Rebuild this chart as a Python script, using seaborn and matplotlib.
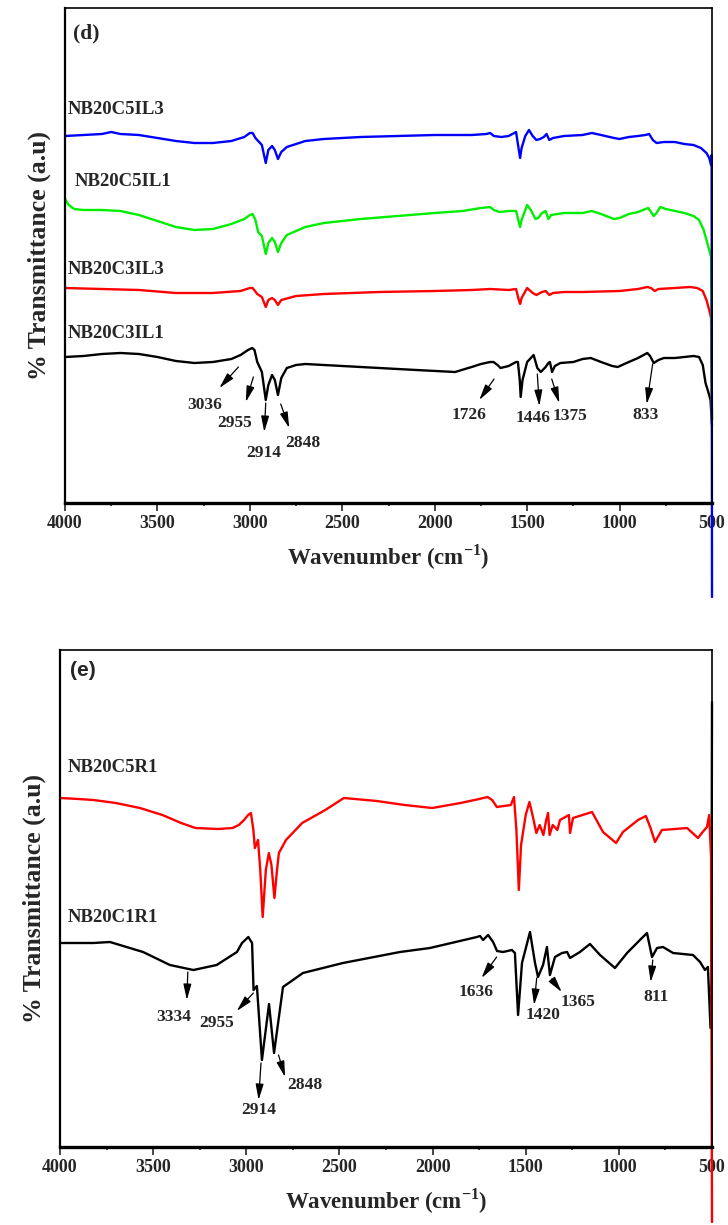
import matplotlib
matplotlib.use('Agg')
import matplotlib.pyplot as plt
from matplotlib.ticker import MultipleLocator
import seaborn as sns

sns.set_theme(style='white')
plt.rcParams['font.family'] = ['Liberation Serif', 'DejaVu Serif']
plt.rcParams['font.weight'] = 'bold'
plt.rcParams['mathtext.fontset'] = 'custom'
plt.rcParams['mathtext.rm'] = 'Liberation Serif'
plt.rcParams['mathtext.bf'] = 'Liberation Serif:bold'

# ---- panel (d): spectra (wavenumber, transmittance a.u. with offsets)
d_c5il3_x = [4000, 3900, 3800, 3750, 3700, 3600, 3500, 3400, 3300, 3200, 3100, 3030, 3000, 2985,
             2970, 2955, 2935, 2914, 2900, 2880, 2865, 2848, 2830, 2800, 2700, 2600, 2400, 2200,
             2000, 1800, 1720, 1700, 1680, 1640, 1600, 1570, 1560, 1545, 1538, 1530, 1510, 1490,
             1470, 1450, 1430, 1410, 1395, 1380, 1360, 1300, 1200, 1150, 1100, 1030, 1000, 950,
             900, 860, 840, 820, 800, 760, 700, 650, 600, 560, 530, 515, 505, 502, 500]
d_c5il3_y = [367, 368, 369, 371, 369, 368, 365, 362, 360, 360, 362, 366, 370, 370,
             365, 362, 358, 340, 353, 357, 353, 344, 351, 356, 362, 364, 366, 367,
             368, 368, 369, 370, 367, 366, 367, 370, 371, 353, 345, 355, 367, 373,
             367, 363, 364, 366, 369, 363, 365, 367, 368, 370, 368, 365, 364, 366,
             367, 368, 369, 363, 360, 361, 361, 359, 358, 355, 350, 345, 338, 348, -94]

d_c5il1_x = [4000, 3980, 3950, 3900, 3800, 3700, 3600, 3500, 3400, 3300, 3200, 3100, 3030, 3000,
             2985, 2970, 2955, 2935, 2914, 2900, 2880, 2865, 2848, 2830, 2800, 2700, 2600, 2400,
             2200, 2000, 1850, 1750, 1700, 1680, 1650, 1600, 1560, 1545, 1538, 1530, 1500, 1480,
             1455, 1440, 1420, 1400, 1385, 1370, 1300, 1200, 1150, 1100, 1030, 1000, 950, 900,
             860, 845, 815, 800, 780, 750, 700, 650, 600, 570, 545, 530, 515, 505, 500]
d_c5il1_y = [304, 298, 294, 293, 293, 292, 288, 282, 276, 273, 274, 279, 284, 288,
             289, 283, 271, 267, 249, 260, 265, 261, 251, 260, 268, 276, 280, 284,
             287, 290, 292, 295, 296, 293, 291, 292, 292, 281, 276, 283, 298, 293,
             284, 285, 290, 292, 284, 288, 290, 290, 292, 289, 284, 285, 289, 291,
             294, 295, 287, 290, 296, 294, 292, 290, 287, 283, 273, 263, 253, 246, 83]

d_c3il3_x = [4000, 3800, 3600, 3400, 3200, 3050, 3000, 2985, 2960, 2935, 2914, 2900, 2880, 2865,
             2848, 2830, 2750, 2600, 2300, 2000, 1800, 1700, 1600, 1560, 1545, 1538, 1530, 1500,
             1470, 1450, 1420, 1400, 1380, 1360, 1300, 1200, 1000, 900, 850, 830, 810, 790,
             700, 620, 580, 550, 530, 515, 505, 500]
d_c3il3_y = [215, 214, 213, 210, 210, 212, 215, 215, 209, 206, 196, 203, 205, 203,
             198, 203, 207, 209, 211, 212, 213, 214, 213, 214, 203, 199, 205, 215,
             210, 208, 211, 212, 208, 210, 211, 211, 212, 214, 216, 215, 212, 214,
             215, 216, 215, 212, 203, 193, 185, 83]

d_c3il1_x = [4000, 3900, 3800, 3700, 3600, 3500, 3400, 3300, 3200, 3100, 3050, 3010, 2987, 2975,
             2960, 2950, 2935, 2914, 2900, 2880, 2865, 2848, 2830, 2800, 2750, 2700, 2500, 2300,
             2100, 1890, 1800, 1750, 1700, 1682, 1660, 1644, 1600, 1560, 1550, 1540, 1535, 1525,
             1500, 1465, 1445, 1426, 1400, 1385, 1377, 1365, 1350, 1320, 1250, 1200, 1156, 1100,
             1040, 1010, 950, 900, 850, 835, 815, 790, 760, 700, 650, 600, 570, 550, 535, 520,
             508, 500]
d_c3il1_y = [146, 147, 149, 150, 149, 146, 142, 140, 141, 144, 148, 153, 155, 153,
             141, 137, 131, 103, 118, 128, 123, 108, 125, 135, 138, 139, 137, 135,
             133, 131, 136, 139, 141, 141, 138, 135, 137, 141, 141, 123, 106, 123,
             141, 148, 135, 131, 136, 140, 141, 131, 137, 140, 141, 144, 145, 141,
             137, 136, 141, 145, 150, 147, 140, 143, 145, 145, 146, 147, 146, 138, 120, 111,
             103, 78]

d_names = ['NB20C5IL3', 'NB20C5IL1', 'NB20C3IL3', 'NB20C3IL1']
d_name_x = [3985, 3945, 3985, 3985]
d_name_y = [393, 321, 233, 169]

d_peaks = ['3036', '2955', '2914', '2848', '1726', '1446', '1375', '833']
d_peak_tail = [(3062, 136), (2981, 126), (2914, 100), (2833, 99), (1679, 124), (1445, 129), (1367, 124), (821, 139)]
d_peak_head = [(3165, 115), (3022, 101), (2922, 71), (2787, 75), (1759, 103), (1434, 97), (1326, 100), (853, 99)]
d_peak_text = [(3243, 98), (3080, 80), (2927, 50), (2714, 60), (1813, 88), (1467, 85), (1268, 87), (862, 88)]

# ---- panel (e)
e_c5r1_x = [4000, 3900, 3821, 3700, 3571, 3450, 3350, 3273, 3150, 3074, 3040, 3012, 2990, 2975,
            2962, 2954, 2937, 2925, 2912, 2895, 2879, 2865, 2849, 2835, 2825, 2787, 2700, 2576,
            2476, 2300, 2150, 2002, 1850, 1750, 1705, 1680, 1655, 1580, 1563, 1550, 1537, 1525,
            1500, 1480, 1460, 1443, 1425, 1405, 1390, 1380, 1372, 1355, 1330, 1316, 1268, 1262,
            1246, 1144, 1085, 1015, 978, 897, 855, 830, 806, 769, 700, 634, 575, 550, 527, 515,
            505, 500]
e_c5r1_y = [349, 348, 347, 344, 339, 332, 324, 319, 318, 319, 322, 327, 332, 334,
            317, 299, 307, 277, 230, 277, 294, 282, 249, 277, 294, 307, 324, 337,
            349, 346, 342, 339, 344, 348, 350, 347, 340, 342, 350, 317, 257, 302,
            332, 345, 329, 314, 322, 312, 327, 334, 312, 322, 317, 327, 332, 314,
            329, 335, 315, 304, 315, 327, 331, 319, 305, 317, 318, 319, 309, 315, 320, 332,
            290, -75]

e_c1r1_x = [4000, 3821, 3732, 3554, 3410, 3284, 3159, 3050, 3023, 2989, 2969, 2961, 2943, 2916,
            2878, 2851, 2803, 2696, 2481, 2175, 2014, 1762, 1745, 1729, 1702, 1675, 1654, 1622,
            1574, 1558, 1541, 1520, 1477, 1450, 1434, 1407, 1386, 1370, 1343, 1305, 1278, 1262,
            1209, 1155, 1101, 1021, 956, 887, 849, 822, 795, 763, 709, 602, 564, 538, 522,
            508, 503, 500]
e_c1r1_y = [204, 204, 205, 195, 182, 177, 182, 195, 204, 210, 204, 157, 161, 87,
            143, 94, 160, 174, 184, 195, 199, 210, 211, 207, 212, 205, 196, 195,
            197, 194, 132, 184, 215, 184, 170, 182, 200, 172, 190, 194, 195, 189,
            195, 203, 192, 179, 194, 207, 214, 190, 199, 200, 194, 192, 185, 177, 180,
            119, 167, 445]

e_names = ['NB20C5R1', 'NB20C1R1']
e_name_x = [3960, 3960]
e_name_y = [380, 229]

e_peaks = ['3334', '2955', '2914', '2848', '1636', '1420', '1365', '811']
e_peak_tail = [(3314, 175), (2962, 154), (2921, 84), (2827, 92), (1656, 190), (1441, 169), (1361, 168), (818, 187)]
e_peak_head = [(3319, 147), (3051, 136), (2934, 47), (2792, 70), (1737, 169), (1455, 142), (1307, 155), (829, 165)]
e_peak_text = [(3391, 130), (3159, 124), (2934, 37), (2685, 62), (1764, 155), (1405, 132), (1218, 145), (800, 150)]

fig = plt.figure(figsize=(7.28, 12.25), dpi=100)
ax_d = fig.add_axes([65 / 728, 1 - 503 / 1225, 647 / 728, 495 / 1225])
ax_e = fig.add_axes([60 / 728, 1 - 1147 / 1225, 652 / 728, 497 / 1225])


def style_axis(ax, ytop):
    ax.set_xlim(4000, 500)
    ax.set_ylim(0, ytop)
    ax.xaxis.set_major_locator(MultipleLocator(500))
    ax.xaxis.set_minor_locator(MultipleLocator(250))
    ax.set_yticks([])
    ax.tick_params(axis='x', which='major', direction='out', length=5.5, width=1.2,
                   labelsize=13, pad=3, bottom=True)
    ax.tick_params(axis='x', which='minor', direction='out', length=2.5, width=1.2, bottom=True)
    for lab in ax.get_xticklabels():
        lab.set_fontweight('bold')
    for side in ['top', 'right']:
        ax.spines[side].set_linewidth(1.2)
        ax.spines[side].set_color('black')
    ax.spines['left'].set_linewidth(1.6)
    ax.spines['left'].set_color('black')
    ax.spines['bottom'].set_linewidth(2.4)
    ax.spines['bottom'].set_color('black')
    ax.set_xlabel('Wavenumber (cm$^{\\mathbf{-1}}$)', fontsize=16.5, fontweight='bold', labelpad=8)
    ax.set_ylabel('% Transmittance (a.u)', fontsize=18.5, fontweight='bold', labelpad=10)


def annotate_peaks(ax, names, tails, heads, texts):
    for name, t, h, p in zip(names, tails, heads, texts):
        ax.annotate('', xy=h, xytext=t,
                    arrowprops=dict(arrowstyle='-|>,head_length=0.8,head_width=0.2',
                                    color='black', lw=0.9, shrinkA=0, shrinkB=0))
        ax.text(p[0], p[1], name, ha='center', va='center', fontsize=12.5, fontweight='bold')


# panel (d)
sns.lineplot(x=d_c3il1_x, y=d_c3il1_y, color='black', lw=1.7, estimator=None, ax=ax_d, clip_on=False)
sns.lineplot(x=d_c3il3_x, y=d_c3il3_y, color='#ff0000', lw=1.7, estimator=None, ax=ax_d, clip_on=False)
sns.lineplot(x=d_c5il1_x, y=d_c5il1_y, color='#00ee00', lw=1.7, estimator=None, ax=ax_d, clip_on=False)
sns.lineplot(x=d_c5il3_x, y=d_c5il3_y, color='#0000ff', lw=1.7, estimator=None, ax=ax_d, clip_on=False)
style_axis(ax_d, 495)
for name, x, y in zip(d_names, d_name_x, d_name_y):
    ax_d.text(x, y, name, ha='left', va='center', fontsize=13.5, fontweight='bold')
ax_d.text(3957, 470, '(d)', ha='left', va='center', fontsize=15.5, fontweight='bold')
annotate_peaks(ax_d, d_peaks, d_peak_tail, d_peak_head, d_peak_text)

# panel (e)
sns.lineplot(x=e_c1r1_x, y=e_c1r1_y, color='black', lw=1.7, estimator=None, ax=ax_e, clip_on=False)
sns.lineplot(x=e_c5r1_x, y=e_c5r1_y, color='#ff0000', lw=1.7, estimator=None, ax=ax_e, clip_on=False)
style_axis(ax_e, 497)
for name, x, y in zip(e_names, e_name_x, e_name_y):
    ax_e.text(x, y, name, ha='left', va='center', fontsize=13.5, fontweight='bold')
ax_e.text(3946, 477, '(e)', ha='left', va='center', fontsize=15, fontweight='bold',
          family=['Liberation Sans', 'DejaVu Sans'])
annotate_peaks(ax_e, e_peaks, e_peak_tail, e_peak_head, e_peak_text)

fig.savefig('out.png', dpi=100)
